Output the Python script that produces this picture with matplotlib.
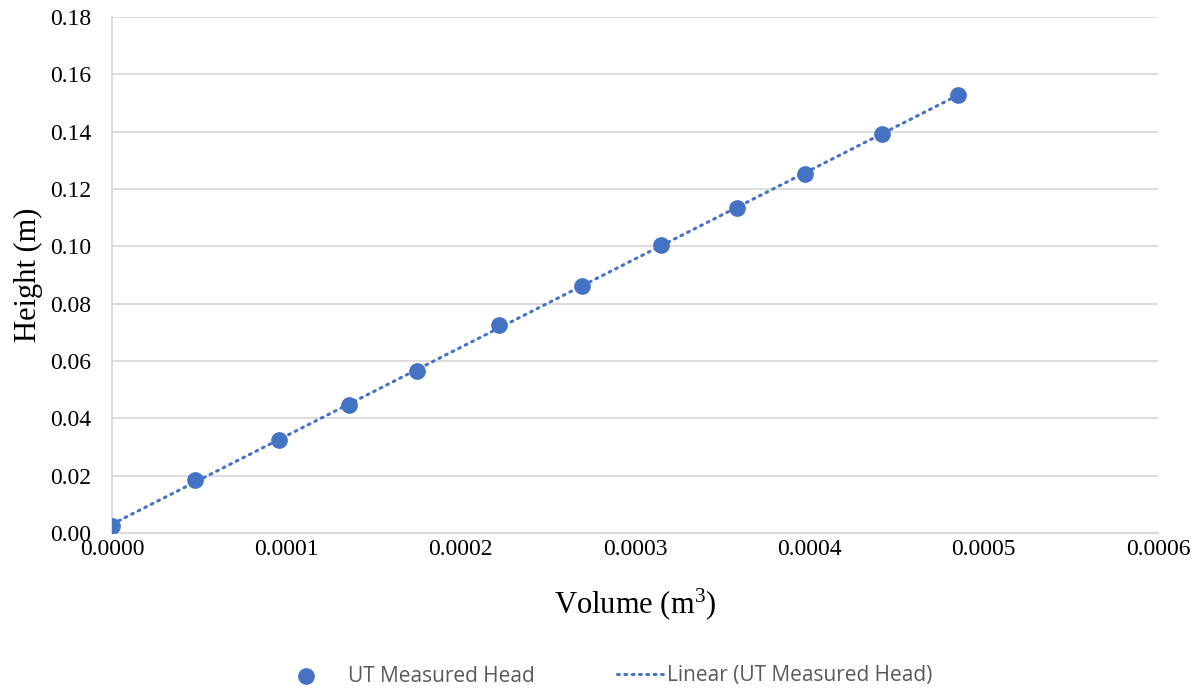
import numpy as np
import matplotlib
matplotlib.use("Agg")
import matplotlib.pyplot as plt
from matplotlib.ticker import FormatStrFormatter, MultipleLocator

plt.rcParams["mathtext.fontset"] = "custom"
plt.rcParams["mathtext.rm"] = "Liberation Serif"
plt.rcParams["mathtext.it"] = "Liberation Serif:italic"

# Measured head vs. volume
volume = [0.0, 0.0000476, 0.0000958, 0.000136, 0.000175, 0.000222,
          0.0002696, 0.000315, 0.0003585, 0.0003975, 0.0004417, 0.0004853]
height = [0.0025, 0.0185, 0.0325, 0.0447, 0.0565, 0.0726,
          0.0862, 0.1005, 0.1134, 0.1253, 0.1392, 0.1528]

series_label = "UT Measured Head"
trend_label = "Linear (UT Measured Head)"
x_label = r"Volume (m$^\mathrm{3}$)"
y_label = "Height (m)"

blue = "#4472C4"
grid_col = "#D9D9D9"

fig = plt.figure(figsize=(11.98, 6.92), dpi=100)
ax = fig.add_axes([112 / 1198, 1 - 533 / 692, (1158 - 112) / 1198, (533 - 17) / 692])

# Least-squares trendline over the measured range
vx = np.array(volume)
vy = np.array(height)
slope, intercept = np.polyfit(vx, vy, 1)
tx = np.array([vx.min(), vx.max()])
trend, = ax.plot(tx, slope * tx + intercept, color=blue, lw=2.2, linestyle=(0, (0.6, 1.8)),
                 dash_capstyle="round", zorder=2, label=trend_label)
pts = ax.scatter(vx, vy, s=145, color=blue, zorder=3, label=series_label, linewidths=0)

ax.set_xlim(0, 0.0006)
ax.set_ylim(0, 0.18)
ax.xaxis.set_major_locator(MultipleLocator(0.0001))
ax.yaxis.set_major_locator(MultipleLocator(0.02))
ax.xaxis.set_major_formatter(FormatStrFormatter("%.4f"))
ax.yaxis.set_major_formatter(FormatStrFormatter("%.2f"))

ax.grid(axis="y", color=grid_col, lw=1.3)
ax.set_axisbelow(True)
for side in ("top", "right"):
    ax.spines[side].set_visible(False)
for side in ("left", "bottom"):
    ax.spines[side].set_color(grid_col)
    ax.spines[side].set_linewidth(1.3)
ax.tick_params(length=0, labelsize=17, labelcolor="black")
ax.tick_params(axis="y", pad=15)
ax.tick_params(axis="x", pad=4)
for lbl in ax.get_xticklabels() + ax.get_yticklabels():
    lbl.set_fontfamily("Liberation Serif")

ax.set_xlabel(x_label, fontsize=22, family="Liberation Serif", labelpad=19)
ax.set_ylabel(y_label, fontsize=22, family="Liberation Serif", labelpad=5)

leg_font = {"family": "Open Sans", "size": 15}
ly = 1 - 676 / 692
leg1 = fig.legend([pts], [series_label], loc="center left", bbox_to_anchor=(283 / 1198, ly),
                  frameon=False, prop=leg_font, handlelength=2.2, handletextpad=0.9,
                  borderpad=0, borderaxespad=0)
leg2 = fig.legend([trend], [trend_label], loc="center left", bbox_to_anchor=(617 / 1198, ly),
                  frameon=False, prop=leg_font, handlelength=2.2, handletextpad=0.2,
                  borderpad=0, borderaxespad=0)
for leg in (leg1, leg2):
    for t in leg.get_texts():
        t.set_color("#595959")

fig.savefig("out.png", dpi=100, facecolor="white")
